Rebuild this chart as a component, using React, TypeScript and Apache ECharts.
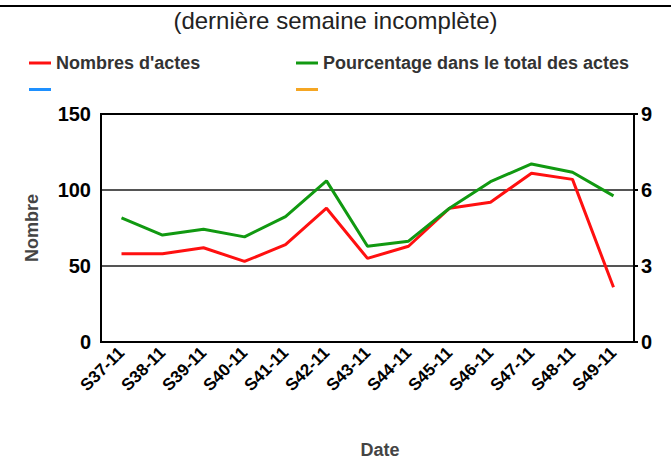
import React, { useEffect, useRef } from "react";
import * as echarts from "echarts";

const categories = ["S37-11", "S38-11", "S39-11", "S40-11", "S41-11", "S42-11", "S43-11", "S44-11", "S45-11", "S46-11", "S47-11", "S48-11", "S49-11"];
const nombreActes = [58, 58, 62, 53, 64, 88, 55, 63, 88, 92, 111, 107, 36];
const pourcentage = [4.9, 4.22, 4.45, 4.15, 4.95, 6.36, 3.78, 3.98, 5.28, 6.33, 7.03, 6.7, 5.77];
const leftTicks = { min: 0, max: 150, interval: 50 };
const rightTicks = { min: 0, max: 9, interval: 3 };

export default function App() {
  const ref = useRef<HTMLDivElement>(null);
  useEffect(() => {
    if (!ref.current) return;
    const chart = echarts.init(ref.current, null, { renderer: "svg" });
    const font = "'Liberation Sans', Arial, sans-serif";
    const legendText = { fontFamily: font, fontSize: 18, fontWeight: "bold", color: "#333", lineHeight: 20 };
    chart.setOption({
      animation: false,
      backgroundColor: "#fff",
      title: {
        text: "(dernière semaine incomplète)",
        left: "center",
        top: 7,
        padding: 0,
        textStyle: { fontFamily: font, fontSize: 24, fontWeight: "normal", color: "#222", lineHeight: 26 },
      },
      legend: [
        {
          orient: "vertical",
          left: 29,
          top: 53,
          padding: 0,
          itemGap: 15,
          itemWidth: 22,
          itemHeight: 3,
          icon: "rect",
          data: ["Nombres d'actes", "s3"],
          formatter: (n: string) => (n.startsWith("s") ? "" : n),
          textStyle: legendText,
          selectedMode: false,
        },
        {
          orient: "vertical",
          left: 296,
          top: 53,
          padding: 0,
          itemGap: 15,
          itemWidth: 22,
          itemHeight: 3,
          icon: "rect",
          data: ["Pourcentage dans le total des actes", "s4"],
          formatter: (n: string) => (n.startsWith("s") ? "" : n),
          textStyle: legendText,
          selectedMode: false,
        },
      ],
      grid: { left: 101, right: 37, top: 114, bottom: 122, show: true, borderColor: "#000", borderWidth: 2, backgroundColor: "transparent" },
      xAxis: [
        {
          type: "category",
          data: categories,
          axisLine: { lineStyle: { color: "#000", width: 2 } },
          axisTick: { alignWithLabel: true, length: 5, lineStyle: { color: "#000", width: 2 } },
          axisLabel: { rotate: 45, fontFamily: font, fontSize: 17, fontWeight: "bold", color: "#000", margin: 8, interval: 0 },
        },
        {
          type: "category",
          data: categories,
          position: "bottom",
          axisLine: { show: false },
          axisTick: { inside: true, alignWithLabel: true, length: 5, lineStyle: { color: "#000", width: 2 } },
          axisLabel: { show: false },
        },
      ],
      yAxis: [
        {
          type: "value",
          ...leftTicks,
          name: "Nombre",
          nameLocation: "middle",
          nameGap: 60,
          nameTextStyle: { fontFamily: font, fontSize: 18, fontWeight: "bold", color: "#444" },
          axisLine: { show: true, lineStyle: { color: "#000", width: 2 } },
          axisTick: { show: false },
          axisLabel: { fontFamily: font, fontSize: 20, fontWeight: "bold", color: "#000", margin: 10 },
          splitLine: { show: true, showMinLine: false, showMaxLine: false, lineStyle: { color: "#555", width: 2 } },
        },
        {
          type: "value",
          ...rightTicks,
          position: "right",
          axisLine: { show: true, lineStyle: { color: "#000", width: 2 } },
          axisTick: { show: true, length: 4, lineStyle: { color: "#000", width: 2 } },
          axisLabel: { fontFamily: font, fontSize: 20, fontWeight: "bold", color: "#000", margin: 7 },
          splitLine: { show: false },
        },
      ],
      series: [
        {
          name: "Nombres d'actes",
          type: "line",
          data: nombreActes,
          yAxisIndex: 0,
          showSymbol: false,
          symbol: "none",
          lineStyle: { color: "#ff1010", width: 3 },
          itemStyle: { color: "#ff1010" },
          z: 3,
        },
        {
          name: "Pourcentage dans le total des actes",
          type: "line",
          data: pourcentage,
          yAxisIndex: 1,
          showSymbol: false,
          symbol: "none",
          lineStyle: { color: "#119911", width: 3 },
          itemStyle: { color: "#119911" },
          z: 3,
        },
        { name: "s3", type: "line", data: [], itemStyle: { color: "#1e90ff" }, lineStyle: { color: "#1e90ff" } },
        { name: "s4", type: "line", data: [], itemStyle: { color: "#f5a623" }, lineStyle: { color: "#f5a623" } },
      ],
      graphic: [
        { type: "line", shape: { x1: 0, y1: 6, x2: 671, y2: 6 }, style: { stroke: "#000", lineWidth: 2 } },
        {
          type: "text",
          x: 380,
          y: 450,
          style: { text: "Date", fontFamily: font, fontSize: 18, fontWeight: "bold", fill: "#444", align: "center", verticalAlign: "middle" },
        },
      ],
    });
    return () => chart.dispose();
  }, []);
  return <div ref={ref} style={{ position: "fixed", left: 0, top: 0, width: 671, height: 464 }} />;
}
